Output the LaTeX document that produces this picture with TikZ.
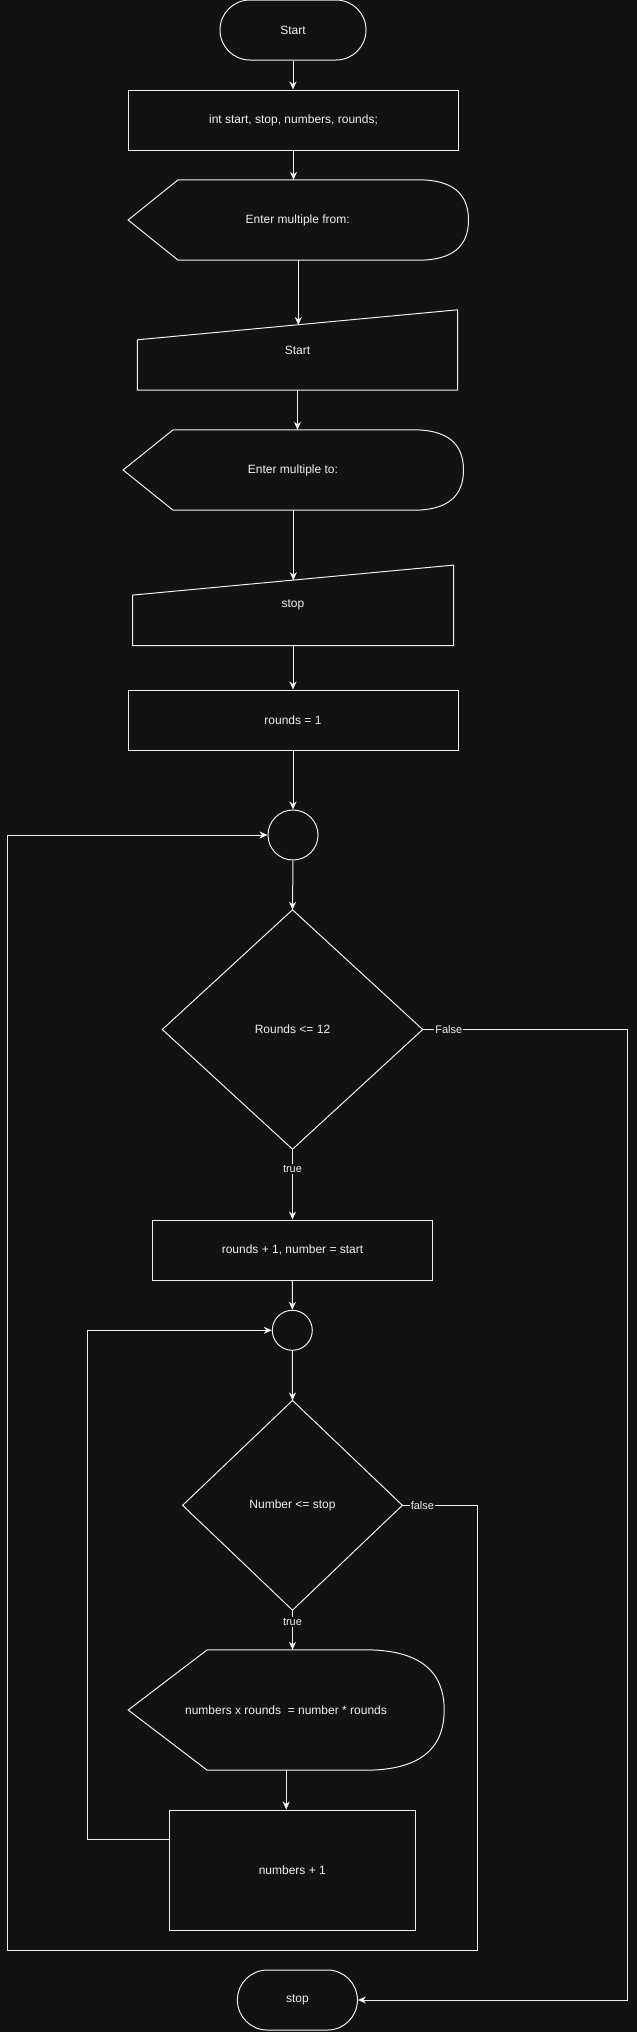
\documentclass[tikz,border=0pt]{standalone}
\usepackage{fontspec}
\setmainfont{Liberation Sans}
\usetikzlibrary{arrows.meta,calc}
\definecolor{bg}{HTML}{121212}
\definecolor{fg}{HTML}{F0F0F0}
\begin{document}
\begin{tikzpicture}[x=1pt,y=-1pt,
  every node/.style={text=fg, font=\fontsize{12}{14}\selectfont},
  base/.style={inner sep=0pt, line width=1pt, draw=fg},
  box/.style={base, rectangle},
  term/.style={base, rectangle, rounded corners=29.9pt},
  ghost/.style={inner sep=0pt, draw=none, rectangle},
  outline/.style={draw=fg, line width=1pt},
  conn/.style={draw=fg, line width=1pt, -{Stealth[length=8pt,width=7pt,inset=2.5pt]}},
  plain/.style={draw=fg, line width=1pt},
  lbl/.style={fill=bg, inner sep=1pt, font=\fontsize{11}{13}\selectfont},
]
% background / bounding box
\fill[bg] (0,0) rectangle (637,2032);
\useasboundingbox (0,0) rectangle (637,2032);

% nodes
\node[term, minimum width=146pt, minimum height=60pt] (start) at (293,30) {Start};
\node[box, minimum width=330pt, minimum height=60pt] (decl) at (293.5,120) {int start, stop, numbers, rounds;};
\node[ghost, minimum width=340pt, minimum height=80pt] (in1) at (298.3,220) {};
\node at (297.7,220) {Enter multiple from:};
\node[ghost, minimum width=320pt, minimum height=80pt] (man1) at (297.5,350) {Start};
\node[ghost, minimum width=340pt, minimum height=80pt] (in2) at (293.3,470) {};
\node at (293,470) {Enter multiple to:};
\node[ghost, minimum width=320.6pt, minimum height=80pt] (man2) at (293,605.3) {stop};
\node[box, minimum width=330pt, minimum height=60pt] (r1) at (293,720) {rounds = 1};
\node[base, circle, minimum size=50pt] (c1) at (293,835) {};
\node[ghost, minimum width=260pt, minimum height=239pt] (d1) at (292.5,1029.5) {Rounds <= 12};
\node[box, minimum width=280pt, minimum height=60pt] (r2) at (292.5,1250) {rounds + 1, number = start};
\node[base, circle, minimum size=40pt] (c2) at (292.3,1330.3) {};
\node[ghost, minimum width=219.4pt, minimum height=209.3pt] (d2) at (292.5,1505.3) {Number <= stop};
\node[ghost, minimum width=315.6pt, minimum height=120pt] (out) at (286.2,1710) {};
\node at (286,1710) {numbers x rounds~ = number * rounds};
\node[box, minimum width=245.8pt, minimum height=120pt] (inc) at (292.3,1870) {numbers + 1};
\node[term, minimum width=120pt, minimum height=60pt] (stop) at (297.4,2000) {stop};

% custom outlines
\draw[outline] (in1.west) -- ($(in1.north west)+(50,0)$) -- ($(in1.north east)+(-50,0)$)
  .. controls ($(in1.north east)+(-16.7,0)$) and ($(in1.east)!0.6667!(in1.north east)$) .. (in1.east)
  .. controls ($(in1.east)!0.6667!(in1.south east)$) and ($(in1.south east)+(-16.7,0)$) .. ($(in1.south east)+(-50,0)$)
  -- ($(in1.south west)+(50,0)$) -- cycle;
\draw[outline] (in2.west) -- ($(in2.north west)+(50,0)$) -- ($(in2.north east)+(-50,0)$)
  .. controls ($(in2.north east)+(-16.7,0)$) and ($(in2.east)!0.6667!(in2.north east)$) .. (in2.east)
  .. controls ($(in2.east)!0.6667!(in2.south east)$) and ($(in2.south east)+(-16.7,0)$) .. ($(in2.south east)+(-50,0)$)
  -- ($(in2.south west)+(50,0)$) -- cycle;
\draw[outline] (out.west) -- ($(out.north west)+(79,0)$) -- ($(out.north east)+(-79,0)$)
  .. controls ($(out.north east)+(-26.3,0)$) and ($(out.east)!0.6667!(out.north east)$) .. (out.east)
  .. controls ($(out.east)!0.6667!(out.south east)$) and ($(out.south east)+(-26.3,0)$) .. ($(out.south east)+(-79,0)$)
  -- ($(out.south west)+(79,0)$) -- cycle;
\draw[outline] ($(man1.north west)+(0,30)$) -- (man1.north east) -- (man1.south east) -- (man1.south west) -- cycle;
\draw[outline] ($(man2.north west)+(0,30)$) -- (man2.north east) -- (man2.south east) -- (man2.south west) -- cycle;
\draw[outline] (d1.north) -- (d1.east) -- (d1.south) -- (d1.west) -- cycle;
\draw[outline] (d2.north) -- (d2.east) -- (d2.south) -- (d2.west) -- cycle;

% helper coordinates
\coordinate (man1in) at (298.3,325);
\coordinate (man2in) at (293.3,580.3);
\coordinate (fR) at (627.7,0);
\coordinate (oR) at (477.4,0);
\coordinate (oB) at (0,1950.3);
\coordinate (oL) at (7.3,0);
\coordinate (iL) at (87.3,0);
\coordinate (incL) at ($(inc.north west)+(0,30)$);

% connectors
\draw[conn] (start.south) -- (start.south |- decl.north);
\draw[conn] (decl.south) -- (decl.south |- in1.north);
\draw[conn] (in1.south) -- (man1in);
\draw[conn] (man1.south) -- (man1.south |- in2.north);
\draw[conn] (in2.south) -- (man2in);
\draw[conn] (man2.south) -- (man2.south |- r1.north);
\draw[conn] (r1.south) -- (c1.north);
\draw[conn] (c1.south) -- (d1.north);
\draw[conn] (d1.south) -- node[lbl, pos=0.28] {true} (r2.north);
\draw[conn] (d1.east) -- node[lbl, pos=0.127] {False} (d1.east -| fR) |- (stop.east);
\draw[conn] (r2.south) -- (c2.north);
\draw[conn] (c2.south) -- (d2.north);
\draw[conn] (d2.south) -- node[lbl, pos=0.3] {true} (d2.south |- out.north);
\draw[conn] (d2.east) -- node[lbl, pos=0.267] {false} (d2.east -| oR) -- (oR |- oB) -- (oL |- oB) -- (oL |- c1.west) -- (c1.west);
\draw[conn] (out.south) -- (out.south |- inc.north);
\draw[conn] (incL) -- (incL -| iL) -- (iL |- c2.west) -- (c2.west);
\end{tikzpicture}
\end{document}
